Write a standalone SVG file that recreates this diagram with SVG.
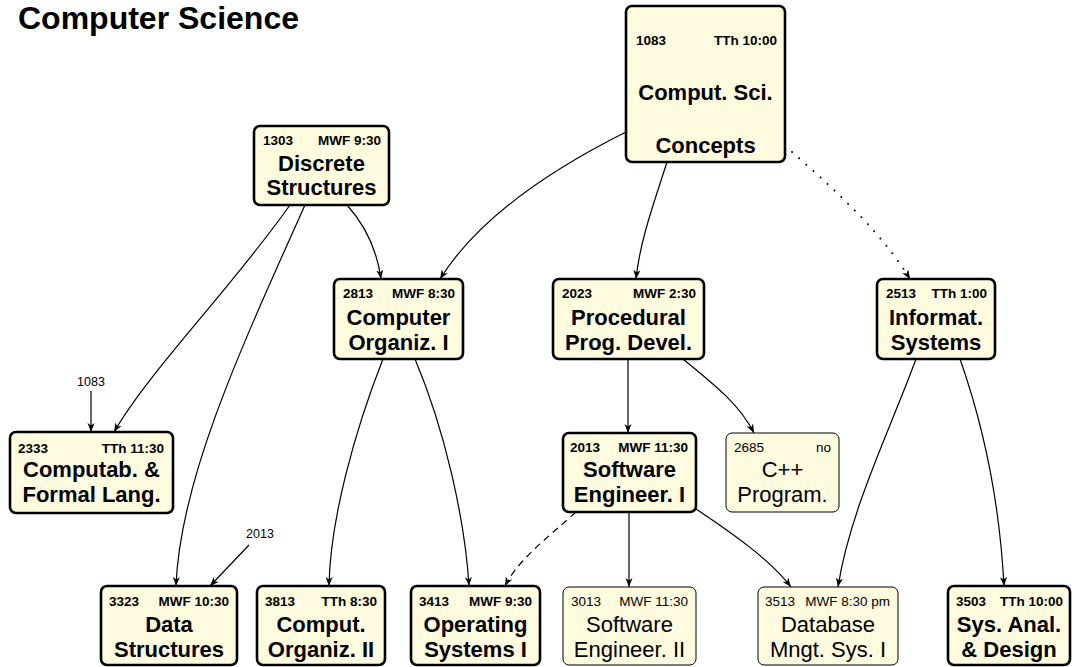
<svg xmlns="http://www.w3.org/2000/svg" width="1074" height="667" viewBox="0 0 1074 667">
<defs>
<marker id="ah" markerUnits="userSpaceOnUse" markerWidth="10" markerHeight="8" refX="9" refY="4" orient="auto">
<path d="M0,0.5 L9,4 L0,7.5 L2.5,4 z" fill="#000"/>
</marker>
<style>
.box{fill:#fffbdf;stroke:#000;stroke-width:2.6}
.tbox{fill:#fffbdf;stroke:#000;stroke-width:1}
text{font-family:"Liberation Sans",Arial,sans-serif;fill:#000}
.hb{font-size:13.5px;font-weight:bold}
.hr{font-size:13.5px}
.bb{font-size:22px;font-weight:bold;text-anchor:middle}
.br{font-size:22px;text-anchor:middle}
.end{text-anchor:end}
.lbl{font-size:12.5px;text-anchor:middle}
.e{fill:none;stroke:#000;stroke-width:1.2;marker-end:url(#ah)}
</style>
</defs>
<rect width="1074" height="667" fill="#fff"/>
<text x="18" y="29" style="font-size:32px;font-weight:bold">Computer Science</text>

<g id="connectors">
<path class="e" d="M626,132 C560,165 480,215 440,279"/>
<path class="e" d="M667,162 C655,200 640,240 636,279"/>
<path class="e" d="M785,146 C830,185 880,230 910,279" style="stroke-width:2;stroke-dasharray:0 9.5;stroke-linecap:round"/>
<path class="e" d="M347,205 C365,225 377,250 381,279"/>
<path class="e" d="M290,205 C230,290 150,370 114,432"/>
<path class="e" d="M305,205 C240,350 180,480 176,586"/>
<path class="e" d="M91,391 L91,432"/>
<path class="e" d="M249,545 L210,586"/>
<path class="e" d="M383,359 C355,430 330,520 329,586"/>
<path class="e" d="M415,359 C445,430 465,520 469,586"/>
<path class="e" d="M576,512 C545,540 518,560 505,586" style="stroke-dasharray:7 5"/>
<path class="e" d="M628,359 L628,433"/>
<path class="e" d="M683,359 C715,385 740,405 754,433"/>
<path class="e" d="M629,512 L629,587"/>
<path class="e" d="M696,509 C735,535 770,560 791,587"/>
<path class="e" d="M916,359 C890,430 850,510 838,587"/>
<path class="e" d="M960,359 C985,430 1000,510 1004,586"/>
<text class="lbl" x="91" y="386">1083</text>
<text class="lbl" x="260" y="538">2013</text>
</g>

<g id="n1083">
<rect class="box" x="626" y="6" width="159" height="156" rx="6"/>
<text class="hb" x="636" y="45">1083</text><text class="hb end" x="777" y="45">TTh 10:00</text>
<text class="bb" x="705.5" y="100">Comput. Sci.</text>
<text class="bb" x="705.5" y="153">Concepts</text>
</g>
<g id="n1303">
<rect class="box" x="254" y="126" width="135" height="79" rx="6"/>
<text class="hb" x="263" y="145">1303</text><text class="hb end" x="381" y="145">MWF 9:30</text>
<text class="bb" x="321.5" y="171">Discrete</text>
<text class="bb" x="321.5" y="195">Structures</text>
</g>
<g id="n2813">
<rect class="box" x="334" y="279" width="129" height="80" rx="6"/>
<text class="hb" x="343" y="298">2813</text><text class="hb end" x="455" y="298">MWF 8:30</text>
<text class="bb" x="398.5" y="325">Computer</text>
<text class="bb" x="398.5" y="350">Organiz. I</text>
</g>
<g id="n2023">
<rect class="box" x="553" y="279" width="151" height="80" rx="6"/>
<text class="hb" x="562" y="298">2023</text><text class="hb end" x="696" y="298">MWF 2:30</text>
<text class="bb" x="628.5" y="325">Procedural</text>
<text class="bb" x="628.5" y="350">Prog. Devel.</text>
</g>
<g id="n2513">
<rect class="box" x="877" y="279" width="118" height="80" rx="6"/>
<text class="hb" x="886" y="298">2513</text><text class="hb end" x="987" y="298">TTh 1:00</text>
<text class="bb" x="936" y="325">Informat.</text>
<text class="bb" x="936" y="350">Systems</text>
</g>
<g id="n2333">
<rect class="box" x="10" y="432" width="163" height="81" rx="6"/>
<text class="hb" x="18" y="453">2333</text><text class="hb end" x="164" y="453">TTh 11:30</text>
<text class="bb" x="91.5" y="477">Computab. &amp;</text>
<text class="bb" x="91.5" y="502">Formal Lang.</text>
</g>
<g id="n2013">
<rect class="box" x="563" y="433" width="133" height="79" rx="6"/>
<text class="hb" x="570" y="452">2013</text><text class="hb end" x="688" y="452">MWF 11:30</text>
<text class="bb" x="629.5" y="477">Software</text>
<text class="bb" x="629.5" y="502">Engineer. I</text>
</g>
<g id="n2685">
<rect class="tbox" x="726" y="433" width="113" height="79" rx="6"/>
<text class="hr" x="734" y="452">2685</text><text class="hr end" x="831" y="452">no</text>
<text class="br" x="782.5" y="477">C++</text>
<text class="br" x="782.5" y="502">Program.</text>
</g>
<g id="n3323">
<rect class="box" x="101" y="586" width="136" height="79" rx="6"/>
<text class="hb" x="109" y="606">3323</text><text class="hb end" x="229" y="606">MWF 10:30</text>
<text class="bb" x="169" y="632">Data</text>
<text class="bb" x="169" y="657">Structures</text>
</g>
<g id="n3813">
<rect class="box" x="257" y="586" width="128" height="79" rx="6"/>
<text class="hb" x="265" y="606">3813</text><text class="hb end" x="377" y="606">TTh 8:30</text>
<text class="bb" x="321" y="632">Comput.</text>
<text class="bb" x="321" y="657">Organiz. II</text>
</g>
<g id="n3413">
<rect class="box" x="411" y="586" width="129" height="79" rx="6"/>
<text class="hb" x="419" y="606">3413</text><text class="hb end" x="532" y="606">MWF 9:30</text>
<text class="bb" x="475.5" y="632">Operating</text>
<text class="bb" x="475.5" y="657">Systems I</text>
</g>
<g id="n3013">
<rect class="tbox" x="563" y="587" width="133" height="78" rx="6"/>
<text class="hr" x="571" y="606">3013</text><text class="hr end" x="688" y="606">MWF 11:30</text>
<text class="br" x="629.5" y="632">Software</text>
<text class="br" x="629.5" y="657">Engineer. II</text>
</g>
<g id="n3513">
<rect class="tbox" x="758" y="587" width="140" height="78" rx="6"/>
<text class="hr" x="765" y="606">3513</text><text class="hr end" x="890" y="606">MWF 8:30 pm</text>
<text class="br" x="828" y="632">Database</text>
<text class="br" x="828" y="657">Mngt. Sys. I</text>
</g>
<g id="n3503">
<rect class="box" x="948" y="586" width="122" height="79" rx="6"/>
<text class="hb" x="956" y="606">3503</text><text class="hb end" x="1063" y="606">TTh 10:00</text>
<text class="bb" x="1009" y="632">Sys. Anal.</text>
<text class="bb" x="1009" y="657">&amp; Design</text>
</g>
</svg>
